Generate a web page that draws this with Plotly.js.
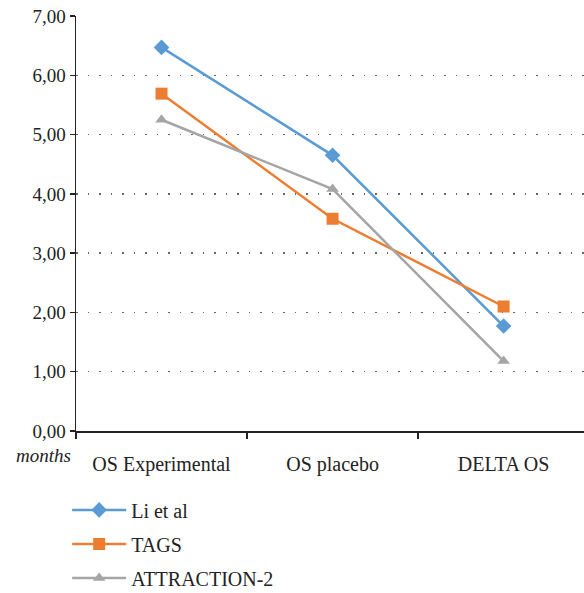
<!DOCTYPE html>
<html>
<head>
<meta charset="utf-8">
<script src="https://cdn.plot.ly/plotly-3.0.1.min.js"></script>
<style>html,body{margin:0;padding:0;background:#fff;}#chart{width:584px;height:593px;}</style>
</head>
<body>
<div id="chart"></div>
<script>
const categories = ["OS Experimental", "OS placebo", "DELTA OS"];
const seriesNames = ["Li et al", "TAGS", "ATTRACTION-2"];
const liValues = [6.47, 4.65, 1.77];
const tagsValues = [5.69, 3.58, 2.10];
const attractionValues = [5.25, 4.08, 1.18];
const yTicks = [0, 1, 2, 3, 4, 5, 6, 7];

const colors = ["#5B9BD5", "#ED7D31", "#A5A5A5"];
const symbols = ["diamond", "square", "triangle-up"];
const sizes = [12, 12, 11];
const allValues = [liValues, tagsValues, attractionValues];

const traces = allValues.map((vals, i) => ({
  x: categories,
  y: vals,
  name: seriesNames[i],
  type: "scatter",
  mode: "lines+markers",
  legendgroup: "g" + i,
  line: {color: colors[i], width: 2.5},
  marker: {color: colors[i], symbol: symbols[i], size: sizes[i]}
}));

const font = {family: "Liberation Serif, Times New Roman, serif", size: 19, color: "#222"};
const bigFont = Object.assign({}, font, {size: 20});

const layout = {
  width: 584, height: 593,
  margin: {l: 76, r: 0, t: 16, b: 162, autoexpand: false},
  separators: ",.",
  font: font,
  paper_bgcolor: "#fff",
  plot_bgcolor: "#fff",
  showlegend: true,
  legend: {
    xref: "container", yref: "container",
    x: 0.115, xanchor: "left", y: 0.173, yanchor: "top",
    orientation: "v",
    tracegroupgap: 5,
    itemwidth: 54,
    font: bigFont,
    bgcolor: "rgba(0,0,0,0)"
  },
  xaxis: {
    type: "category",
    range: [-0.5, 2.47],
    showline: true, linecolor: "#222", linewidth: 1.5,
    ticks: "outside", tickson: "boundaries", ticklen: 6, tickcolor: "#222", tickwidth: 1.5,
    ticklabelstandoff: 14,
    showgrid: false, zeroline: false,
    tickfont: bigFont
  },
  yaxis: {
    range: [0, 7],
    tickvals: yTicks,
    tickformat: ".2f",
    showline: true, linecolor: "#222", linewidth: 1.5,
    ticks: "outside", ticklen: 5, tickcolor: "#222", tickwidth: 1.5,
    showgrid: true, gridcolor: "#666", gridwidth: 1.5, griddash: "1.5px,10px",
    zeroline: false,
    tickfont: font
  },
  annotations: [{
    text: "<i>months</i>",
    xref: "paper", yref: "paper",
    x: -0.005, y: 0, xanchor: "right", yanchor: "top",
    yshift: -12,
    showarrow: false,
    font: font
  }]
};

Plotly.newPlot("chart", traces, layout, {displayModeBar: false, staticPlot: true});
</script>
</body>
</html>
